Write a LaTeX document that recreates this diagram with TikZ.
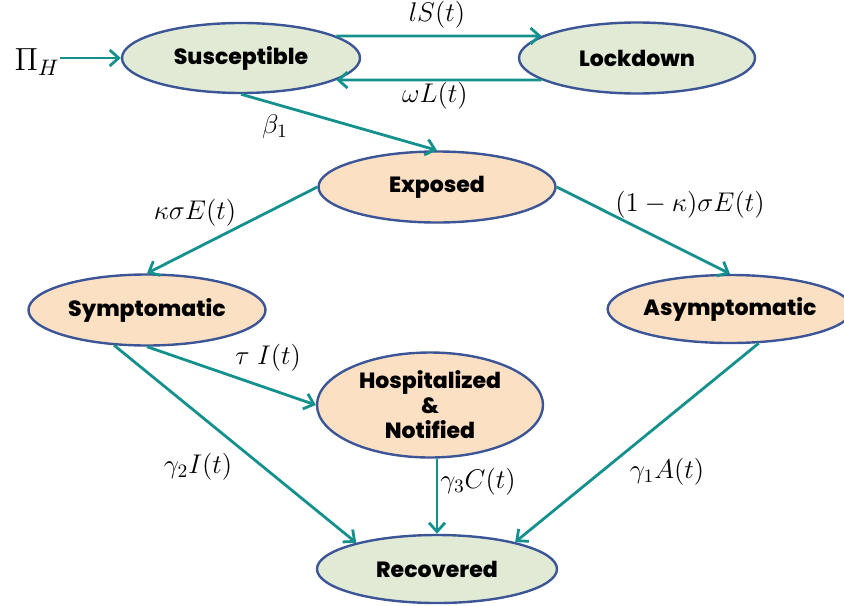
\documentclass[tikz,border=0pt]{standalone}
\usepackage{fix-cm}
\usepackage{fontspec}
\newfontfamily\labfont{Poppins}[BoldFont={Poppins ExtraBold}]
\usetikzlibrary{shapes.geometric,arrows.meta,calc}
\definecolor{arrc}{RGB}{20,145,140}
\definecolor{bordc}{RGB}{60,85,150}
\definecolor{greenf}{RGB}{224,234,212}
\definecolor{orangef}{RGB}{252,224,196}
\begin{document}
\begin{tikzpicture}[x=0.5pt,y=-0.5pt,
 state/.style={ellipse, draw=bordc, line width=1.2pt, inner sep=0pt, font=\labfont\bfseries\fontsize{11}{12.5}\selectfont, align=center},
 gstate/.style={state, fill=greenf},
 ostate/.style={state, fill=orangef},
 flow/.style={draw=arrc, line width=1.4pt, -{Straight Barb[length=4.5pt,width=8pt]}},
 lbl/.style={font=\fontsize{13.5}{15}\selectfont, inner sep=0pt}]
\useasboundingbox (0,0) rectangle (844,605);
\node[gstate, minimum width=119pt, minimum height=35pt] (S) at (241,58) {Susceptible};
\node[gstate, minimum width=118pt, minimum height=35.5pt] (L) at (637,58) {Lockdown};
\node[ostate, minimum width=118.5pt, minimum height=35.5pt] (E) at (437,187) {Exposed};
\node[ostate, minimum width=118.5pt, minimum height=35.5pt] (Sy) at (147,310) {Symptomatic};
\node[ostate, minimum width=112pt, minimum height=34pt] (A) at (730,309) {Asymptomatic};
\node[ostate, minimum width=113pt, minimum height=52.5pt] (H) at (430,405) {Hospitalized\\\&\\Notified};
\node[gstate, minimum width=120pt, minimum height=34pt] (R) at (437,569) {Recovered};
\node[lbl, font=\fontsize{16}{18}\selectfont] (P) at (37,62) {$\Pi_H$};
\draw[flow] (P.east |- S.west) -- (S.west);
\draw[flow] (S.13) -- (L.167);
\draw[flow] (L.193) -- (S.347);
\draw[flow] (S.south) -- (E.north);
\draw[flow] (E.west) -- (Sy.north);
\draw[flow] (E.east) -- (A.north);
\draw[flow] (Sy.south) -- (H.west);
\draw[flow] (Sy.227) -- (R.162);
\draw[flow] (A.310) -- (R.19);
\draw[flow] (H.south -| R.north) -- (R.north);
\node[lbl] (l1) at (437,15) {$lS(t)$};
\node[lbl] (l2) at (435,96) {$\omega L(t)$};
\node[lbl] (l3) at (275,127) {$\beta_1$};
\node[lbl] (l4) at (195,213) {$\kappa\sigma E(t)$};
\node[lbl] (l5) at (690,205) {$(1-\kappa)\sigma E(t)$};
\node[lbl] (l6) at (268,358) {$\tau\;I(t)$};
\node[lbl] (l7) at (198,467) {$\gamma_2 I(t)$};
\node[lbl] (l8) at (478,482) {$\gamma_3 C(t)$};
\node[lbl] (l9) at (667,472) {$\gamma_1 A(t)$};
\end{tikzpicture}
\end{document}
